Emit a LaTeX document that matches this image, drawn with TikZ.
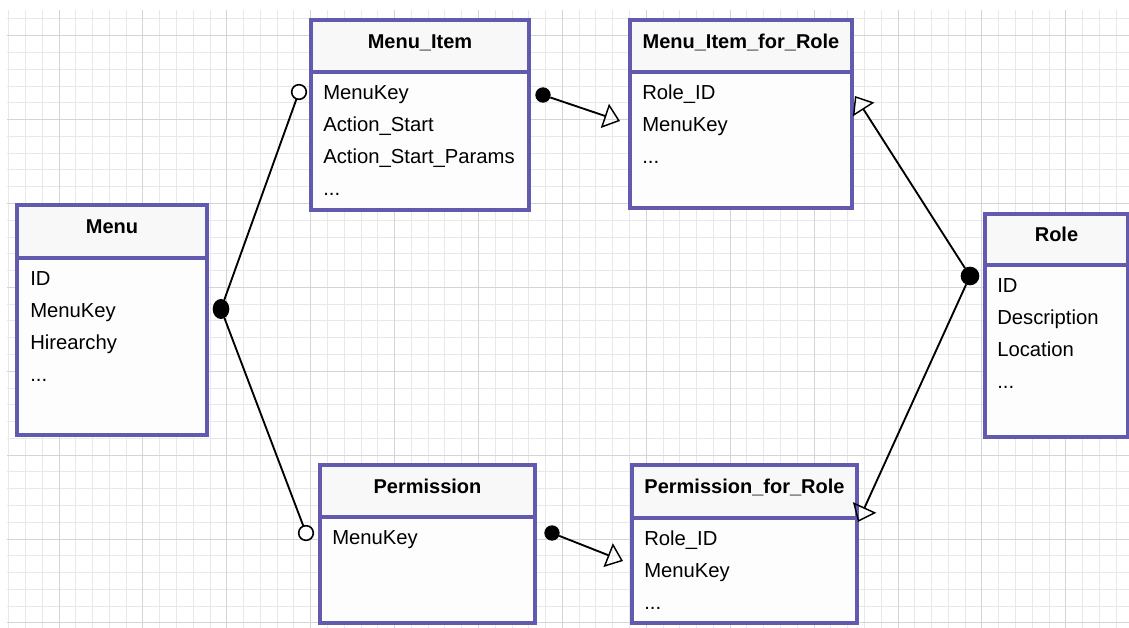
\documentclass[tikz,border=0pt]{standalone}
\usepackage{fontspec}
\setmainfont{Liberation Sans}
\usetikzlibrary{arrows.meta,fit,shapes.geometric}

\definecolor{boxline}{RGB}{98,90,174}
\definecolor{gridminor}{RGB}{232,232,232}
\definecolor{gridmajor}{RGB}{212,212,212}
\definecolor{headfill}{RGB}{248,248,248}
\definecolor{bodyfill}{RGB}{253,253,253}

\tikzset{
  boxpart/.style={draw=boxline, line width=2.5pt, inner sep=0pt, outer sep=0pt},
  boxhead/.style={boxpart, fill=headfill},
  boxbody/.style={boxpart, fill=bodyfill},
  headtext/.style={font=\fontsize{15}{18}\selectfont\bfseries, anchor=base, inner sep=0pt},
  field/.style={font=\fontsize{15.2}{18}\selectfont, anchor=base west, inner sep=0pt},
  link/.style={draw=black, line width=1.4pt},
  tri/.style={-{Triangle[open, length=12pt, width=19pt, line width=1.1pt]}},
  fdot/.style={circle, fill=black, inner sep=0pt, outer sep=0pt, minimum size=11.5pt},
  ring/.style={circle, draw=black, fill=white, line width=1.2pt, inner sep=0pt, outer sep=0pt, minimum size=11pt},
  blob/.style={ellipse, fill=black, inner sep=0pt, outer sep=0pt},
}

\begin{document}
\begin{tikzpicture}[x=0.75pt, y=-0.75pt]
  \useasboundingbox (0,0) rectangle (1129,628);

  % background grid
  \begin{scope}
    \clip (7,10) rectangle (1129,628);
    \foreach \k in {0,...,67}
      \draw[gridminor, line width=0.75pt] ({8.66+16.78*\k},10) -- ++(0,620);
    \foreach \k in {0,...,37}
      \draw[gridminor, line width=0.75pt] (7,{18.9+16.78*\k}) -- ++(1125,0);
    \foreach \k in {0,...,13}
      \draw[gridmajor, line width=0.75pt] ({8.66+16.78*(3+5*\k)},10) -- ++(0,620);
    \foreach \k in {0,...,7}
      \draw[gridmajor, line width=0.75pt] (7,{18.9+16.78*(1+5*\k)}) -- ++(1125,0);
  \end{scope}

  % Menu
  \node[boxhead, fit={(17,205) (207,258)}] (menuH) {};
  \node[boxbody, fit={(17,258) (207,435)}] (menuB) {};
  \node[headtext] (menuT) at (112,233.5) {Menu};
  \node[field] (menuF1) at (30,285) {ID};
  \node[field] (menuF2) at (30,317) {MenuKey};
  \node[field] (menuF3) at (30,349) {Hirearchy};
  \node[field] (menuF4) at (30,381) {...};

  % Menu_Item
  \node[boxhead, fit={(311,20) (529,72)}] (itemH) {};
  \node[boxbody, fit={(311,72) (529,210)}] (itemB) {};
  \node[headtext] (itemT) at (420,48) {Menu\_Item};
  \node[field] (itemF1) at (323,99) {MenuKey};
  \node[field] (itemF2) at (323,131) {Action\_Start};
  \node[field] (itemF3) at (323,163) {Action\_Start\_Params};
  \node[field] (itemF4) at (323,195) {...};

  % Menu_Item_for_Role
  \node[boxhead, fit={(630,20) (852,72)}] (imrH) {};
  \node[boxbody, fit={(630,72) (852,208)}] (imrB) {};
  \node[headtext] (imrT) at (741,48) {Menu\_Item\_for\_Role};
  \node[field] (imrF1) at (642,99) {Role\_ID};
  \node[field] (imrF2) at (642,131) {MenuKey};
  \node[field] (imrF3) at (642,163) {...};

  % Role
  \node[boxhead, fit={(985,214) (1128,265)}] (roleH) {};
  \node[boxbody, fit={(985,265) (1128,437)}] (roleB) {};
  \node[headtext] (roleT) at (1056.5,241.5) {Role};
  \node[field] (roleF1) at (997,292) {ID};
  \node[field] (roleF2) at (997,324) {Description};
  \node[field] (roleF3) at (997,356) {Location};
  \node[field] (roleF4) at (997,388) {...};

  % Permission
  \node[boxhead, fit={(320,465) (535,517)}] (permH) {};
  \node[boxbody, fit={(320,517) (535,623)}] (permB) {};
  \node[headtext] (permT) at (427.5,493) {Permission};
  \node[field] (permF1) at (332,544) {MenuKey};

  % Permission_for_Role
  \node[boxhead, fit={(632,465) (857,518)}] (pfrH) {};
  \node[boxbody, fit={(632,518) (857,623)}] (pfrB) {};
  \node[headtext] (pfrT) at (744.5,493) {Permission\_for\_Role};
  \node[field] (pfrF1) at (644,545) {Role\_ID};
  \node[field] (pfrF2) at (644,577) {MenuKey};
  \node[field] (pfrF3) at (644,609) {...};

  % connector end markers
  \node[blob, minimum width=12.5pt, minimum height=15pt] (menuBlob) at (221,309) {};
  \node[blob, minimum width=14pt, minimum height=14pt] (roleBlob) at (970,276) {};
  \node[ring] (itemRing) at (299,92) {};
  \node[ring] (permRing) at (306,533) {};
  \node[fdot] (itemDot) at (543,95) {};
  \node[fdot] (permDot) at (552,533) {};
  \coordinate (imrTip) at (620,121);
  \coordinate (pfrTip) at (623,561);
  \coordinate (imrTipR) at (855,96);
  \coordinate (pfrTipR) at (858,522);

  % connectors
  \draw[link] (menuBlob) -- (itemRing);
  \draw[link] (menuBlob) -- (permRing);
  \draw[link, tri] (itemDot) -- (imrTip);
  \draw[link, tri] (permDot) -- (pfrTip);
  \draw[link, tri] (roleBlob) -- (imrTipR);
  \draw[link, tri] (roleBlob) -- (pfrTipR);
\end{tikzpicture}
\end{document}
